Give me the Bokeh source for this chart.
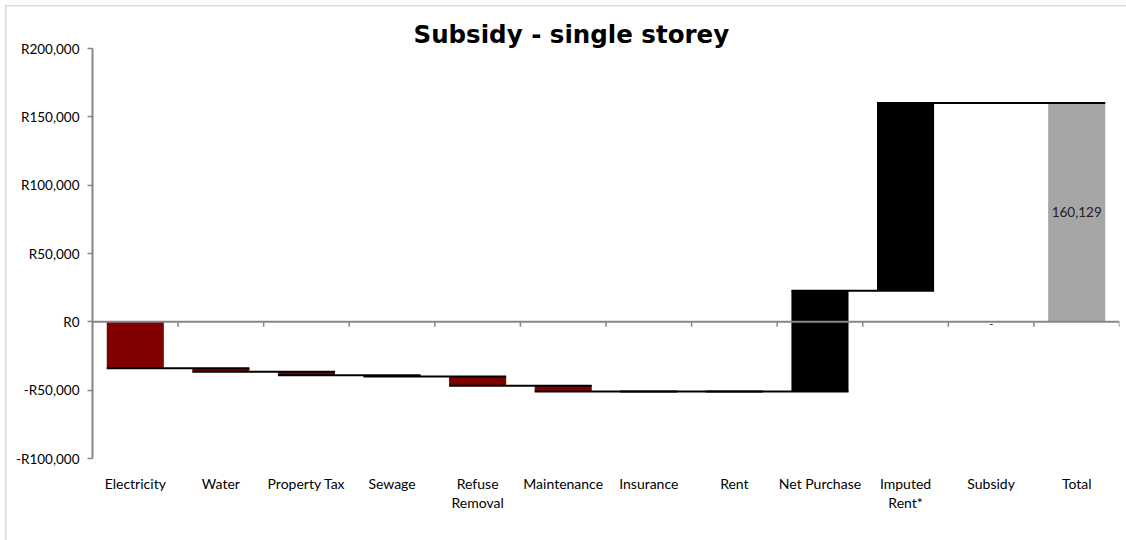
from bokeh.plotting import figure
from bokeh.models import Range1d, FixedTicker, Title
from bokeh.core.properties import value
from bokeh.embed import file_html
from bokeh.resources import INLINE

# ---- data ----
categories = ["Electricity", "Water", "Property Tax", "Sewage", "Refuse\nRemoval",
              "Maintenance", "Insurance", "Rent", "Net Purchase", "Imputed\nRent*",
              "Subsidy", "Total"]
changes = [-33900, -2700, -2400, -1000, -6800, -4200, 0, 0, 73700, 137429, 0]
total_value = 160129
total_label = "160,129"
subsidy_label = "-"
y_ticks = [-100000, -50000, 0, 50000, 100000, 150000, 200000]
y_tick_labels = ["-R100,000", "-R50,000", "R0", "R50,000", "R100,000", "R150,000", "R200,000"]
title_text = "Subsidy - single storey"

# ---- derived waterfall geometry ----
n = len(categories)
xs = [i + 0.5 for i in range(n)]
bottoms, tops, colors = [], [], []
level = 0
for i, c in enumerate(changes):
    start, end = level, level + c
    bottoms.append(min(start, end))
    tops.append(max(start, end))
    colors.append("#800000" if c < 0 else "#000000")
    level = end
bottoms.append(0)
tops.append(total_value)
colors.append("#A6A6A6")

ends = []
level = 0
for c in changes:
    level += c
    ends.append(level)

bw = 0.667
cx0, cx1, cy = [], [], []
for i in range(len(changes)):
    cx0.append(xs[i] - bw / 2)
    cx1.append(xs[i + 1] + bw / 2)
    cy.append(ends[i])

FONT = "Lato"
AX = "#868686"

p = figure(width=1126, height=540, x_range=Range1d(0, n), y_range=Range1d(-100000, 200000),
           output_backend="svg", toolbar_location=None,
           min_border_left=92, min_border_right=7, min_border_top=48, min_border_bottom=82)
p.outline_line_color = None
p.xgrid.visible = False
p.ygrid.visible = False
p.background_fill_color = "white"
p.border_fill_color = None
p.styles = {"box-shadow": "inset 5px 5px 0 0 white, inset 6.5px 6.5px 0 0 #d9d9d9"}

p.title = Title(text=title_text, align="left", offset=321, text_font="DejaVu Sans",
                text_font_size="24.5px", text_font_style="bold", text_color="black",
                standoff=0)

# bars
p.vbar(x=xs, bottom=bottoms, top=tops, width=bw, fill_color=colors, line_color=None)

# zero axis line and category boundary ticks
p.segment(x0=[0], x1=[n], y0=[0], y1=[0], line_color=AX, line_width=2)
bx = list(range(n + 1))
p.segment(x0=bx, x1=bx, y0=[0] * len(bx), y1=[-3600] * len(bx), line_color=AX, line_width=1.5)

# connectors
p.segment(x0=cx0, x1=cx1, y0=cy, y1=cy, line_color="black", line_width=2)

# data labels
p.text(x=[xs[-1]], y=[total_value / 2], text=[total_label], text_align="center",
       text_baseline="middle", text_font=value(FONT), text_font_size="13.5px", text_color="#222222")
p.text(x=[xs[-2]], y=[-1500], text=[subsidy_label], text_align="center",
       text_baseline="middle", text_font=value(FONT), text_font_size="12px", text_color="#222222")

# y axis
ya = p.yaxis[0]
ya.ticker = FixedTicker(ticks=y_ticks)
ya.major_label_overrides = {t: l for t, l in zip(y_ticks, y_tick_labels)}
ya.axis_line_color = AX
ya.axis_line_width = 2
ya.major_tick_line_color = AX
ya.major_tick_line_width = 1.5
ya.major_tick_out = 5
ya.major_tick_in = 0
ya.minor_tick_line_color = None
ya.major_label_standoff = 8
ya.major_label_text_font = FONT
ya.major_label_text_font_size = "13.5px"
ya.major_label_text_color = "black"

# x axis (category labels)
xa = p.xaxis[0]
xa.ticker = FixedTicker(ticks=xs)
xa.major_label_overrides = {x: c for x, c in zip(xs, categories)}
xa.axis_line_color = None
xa.major_tick_line_color = None
xa.minor_tick_line_color = None
xa.major_label_standoff = 10
xa.major_label_text_font = FONT
xa.major_label_text_font_size = "14px"
xa.major_label_text_color = "black"
xa.major_label_text_line_height = 1.17

open("out.html", "w").write(file_html(p, INLINE))
